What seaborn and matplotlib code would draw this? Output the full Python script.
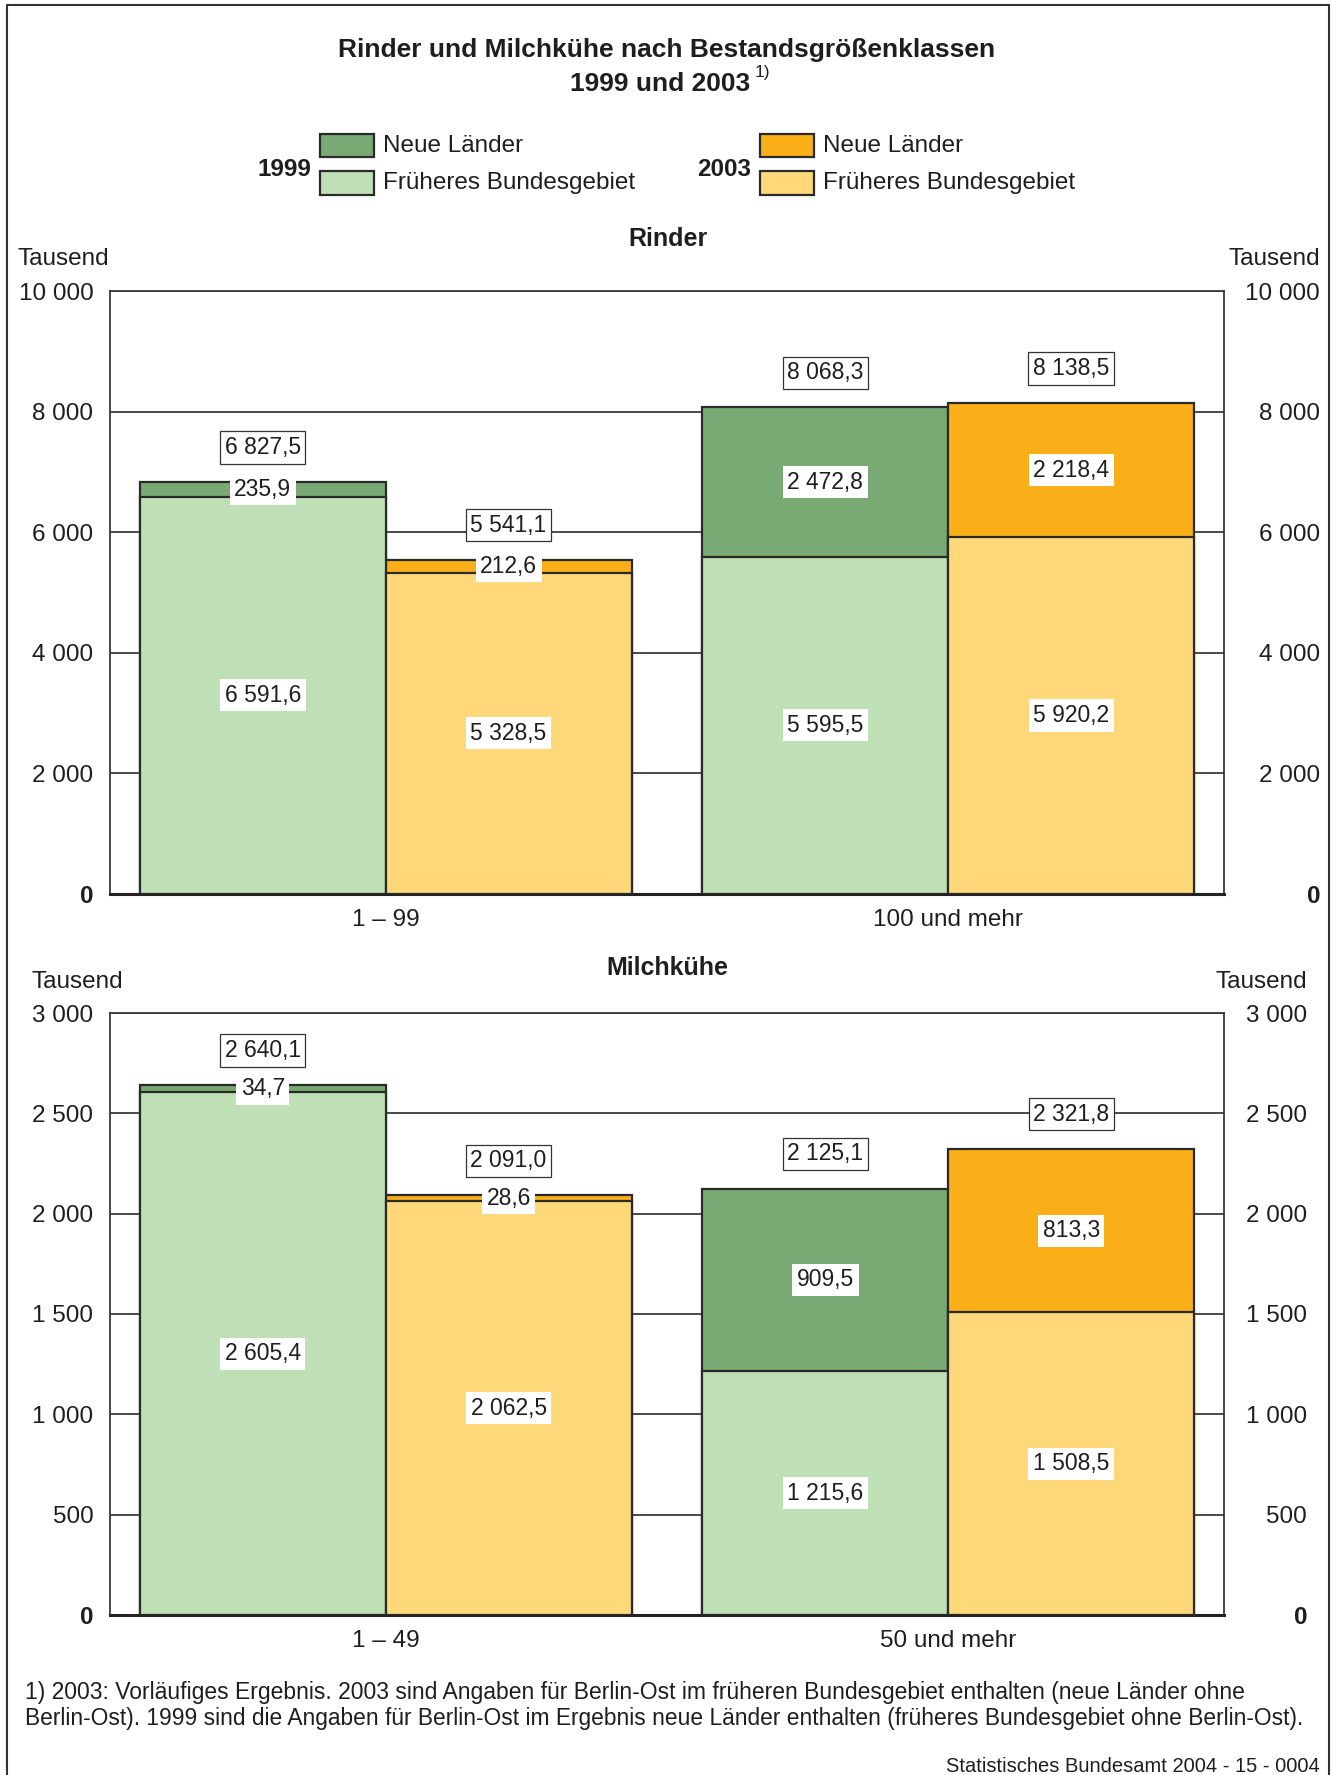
import matplotlib
matplotlib.use('Agg')
import matplotlib.pyplot as plt
from matplotlib.patches import Rectangle
from matplotlib.lines import Line2D
import seaborn as sns
import pandas as pd

# ---------------- data ----------------
years = ['1999', '2003']
legend_labels = ['Neue Länder', 'Früheres Bundesgebiet']

rinder_klassen = ['1 – 99', '100 und mehr']
rinder_frueher_1999 = [6591.6, 5595.5]
rinder_neue_1999 = [235.9, 2472.8]
rinder_gesamt_1999 = [6827.5, 8068.3]
rinder_frueher_2003 = [5328.5, 5920.2]
rinder_neue_2003 = [212.6, 2218.4]
rinder_gesamt_2003 = [5541.1, 8138.5]
rinder_ticks = [0, 2000, 4000, 6000, 8000, 10000]

milch_klassen = ['1 – 49', '50 und mehr']
milch_frueher_1999 = [2605.4, 1215.6]
milch_neue_1999 = [34.7, 909.5]
milch_gesamt_1999 = [2640.1, 2125.1]
milch_frueher_2003 = [2062.5, 1508.5]
milch_neue_2003 = [28.6, 813.3]
milch_gesamt_2003 = [2091.0, 2321.8]
milch_ticks = [0, 500, 1000, 1500, 2000, 2500, 3000]

# ---------------- style ----------------
DARK = {'1999': '#79AA73', '2003': '#FAAF19'}
LIGHT = {'1999': '#BFDFB6', '2003': '#FFD87A'}
EDGE = '#2a2a2a'
GRID = '#3a3a3a'
VAL_FS = 16.5

sns.set_theme(style='white')
plt.rcParams['font.family'] = ['Liberation Sans', 'DejaVu Sans']
plt.rcParams['text.color'] = '#1e1e1e'
plt.rcParams['xtick.color'] = '#1e1e1e'
plt.rcParams['ytick.color'] = '#1e1e1e'

W, H = 1331, 1775
fig = plt.figure(figsize=(W / 100, H / 100), dpi=100)
fig.patch.set_facecolor('white')


def fx(px):
    return px / W


def fy(py):
    return 1 - py / H


def fmt(v):
    return f"{v:,.1f}".replace(',', ' ').replace('.', ',')


def fmt_int(v):
    return f"{v:,.0f}".replace(',', ' ')


def make_df(klassen, fr99, ne99, ge99, fr03, ne03, ge03):
    rows = []
    for i, k in enumerate(klassen):
        rows.append(dict(klasse=k, jahr='1999', frueher=fr99[i], neue=ne99[i], gesamt=ge99[i]))
        rows.append(dict(klasse=k, jahr='2003', frueher=fr03[i], neue=ne03[i], gesamt=ge03[i]))
    return pd.DataFrame(rows)


def panel(rect, df, klassen, ticks, right_pad_px):
    ax = fig.add_axes(rect)
    sns.barplot(data=df, x='klasse', y='gesamt', hue='jahr', order=klassen, hue_order=years,
                palette=DARK, saturation=1, width=0.874, dodge=True, errorbar=None,
                edgecolor=EDGE, linewidth=1.6, legend=False, ax=ax, zorder=3)
    n0 = len(ax.patches)
    sns.barplot(data=df, x='klasse', y='frueher', hue='jahr', order=klassen, hue_order=years,
                palette=LIGHT, saturation=1, width=0.874, dodge=True, errorbar=None,
                edgecolor=EDGE, linewidth=1.6, legend=False, ax=ax, zorder=4)
    tot_bars = sorted(ax.patches[:n0], key=lambda p: p.get_x())
    fr_bars = sorted(ax.patches[n0:], key=lambda p: p.get_x())

    for (_, row), pt, pf in zip(df.iterrows(), tot_bars, fr_bars):
        xc = pt.get_x() + pt.get_width() / 2
        ax.annotate(fmt(row.gesamt), (xc, row.gesamt), xytext=(0, 25), textcoords='offset points',
                    ha='center', va='center', fontsize=VAL_FS, zorder=6,
                    bbox=dict(boxstyle='square,pad=0.2', fc='white', ec='#333333', lw=0.9))
        ax.text(xc, row.frueher + row.neue / 2, fmt(row.neue), ha='center', va='center',
                fontsize=VAL_FS, zorder=6,
                bbox=dict(boxstyle='square,pad=0.2', fc='white', ec='none'))
        ax.text(xc, row.frueher / 2, fmt(row.frueher), ha='center', va='center',
                fontsize=VAL_FS, zorder=6,
                bbox=dict(boxstyle='square,pad=0.2', fc='white', ec='none'))

    top = ticks[-1]
    ax.set_xlim(-0.49, 1.49)
    ax.set_ylim(0, top)
    ax.set_xlabel('')
    ax.set_ylabel('')
    ax.set_yticks(ticks)
    ax.set_yticklabels([fmt_int(t) for t in ticks])
    ax.get_yticklabels()[0].set_fontweight('bold')
    ax.yaxis.grid(True, color=GRID, lw=1.3)
    ax.xaxis.grid(False)
    ax.set_axisbelow(True)
    ax.tick_params(axis='y', length=0, pad=12, labelsize=17.5)
    ax.tick_params(axis='x', length=0, pad=11, labelsize=17.5)
    for s in ['left', 'right', 'top']:
        ax.spines[s].set_color(GRID)
        ax.spines[s].set_linewidth(1.3)
    ax.spines['bottom'].set_color('#222222')
    ax.spines['bottom'].set_linewidth(2.2)

    ax2 = ax.twinx()
    ax2.set_ylim(0, top)
    ax2.set_yticks(ticks)
    ax2.set_yticklabels([fmt_int(t) for t in ticks])
    ax2.tick_params(axis='y', length=0, pad=right_pad_px * 0.72, labelsize=17.5)
    for lab in ax2.get_yticklabels():
        lab.set_horizontalalignment('right')
    ax2.get_yticklabels()[0].set_fontweight('bold')
    for s in ax2.spines.values():
        s.set_visible(False)
    ax2.grid(False)
    return ax


rinder_df = make_df(rinder_klassen, rinder_frueher_1999, rinder_neue_1999, rinder_gesamt_1999,
                    rinder_frueher_2003, rinder_neue_2003, rinder_gesamt_2003)
milch_df = make_df(milch_klassen, milch_frueher_1999, milch_neue_1999, milch_gesamt_1999,
                   milch_frueher_2003, milch_neue_2003, milch_gesamt_2003)

AX_L, AX_R = 110, 1224
panel([fx(AX_L), fy(894), (AX_R - AX_L) / W, (894 - 291) / H], rinder_df, rinder_klassen,
      rinder_ticks, 1320 - AX_R)
panel([fx(AX_L), fy(1615), (AX_R - AX_L) / W, (1615 - 1013) / H], milch_df, milch_klassen,
      milch_ticks, 1307 - AX_R)

# ---------------- titles ----------------
fig.text(fx(667), fy(50), 'Rinder und Milchkühe nach Bestandsgrößenklassen', ha='center',
         va='center', fontsize=19, fontweight='bold')
fig.text(fx(660), fy(84), '1999 und 2003', ha='center', va='center', fontsize=19, fontweight='bold')
fig.text(fx(755), fy(73), '1)', ha='left', va='center', fontsize=12.5)

fig.text(fx(668), fy(239), 'Rinder', ha='center', va='center', fontsize=18, fontweight='bold')
fig.text(fx(667), fy(968), 'Milchkühe', ha='center', va='center', fontsize=18, fontweight='bold')

for x, y, ha in [(17, 259, 'left'), (1320, 259, 'right'), (32, 982, 'left'), (1307, 982, 'right')]:
    fig.text(fx(x), fy(y), 'Tausend', ha=ha, va='center', fontsize=17.5)

# ---------------- legend ----------------
for yr, x0, xlab in [('1999', 320, 311), ('2003', 760, 751)]:
    for (y0, y1), col, lab in [((134, 157), DARK[yr], legend_labels[0]),
                               ((171, 195), LIGHT[yr], legend_labels[1])]:
        fig.add_artist(Rectangle((fx(x0), fy(y1)), 54 / W, (y1 - y0) / H, transform=fig.transFigure,
                                 fc=col, ec=EDGE, lw=1.6))
        fig.text(fx(x0 + 63), fy((y0 + y1) / 2), lab, ha='left', va='center', fontsize=17.5)
    fig.text(fx(xlab), fy(169), yr, ha='right', va='center', fontsize=17.5, fontweight='bold')

# ---------------- footnote ----------------
fig.text(fx(25), fy(1692), '1) 2003: Vorläufiges Ergebnis. 2003 sind Angaben für Berlin-Ost im früheren '
         'Bundesgebiet enthalten (neue Länder ohne', ha='left', va='center', fontsize=16.5)
fig.text(fx(25), fy(1718), 'Berlin-Ost). 1999 sind die Angaben für Berlin-Ost im Ergebnis neue Länder '
         'enthalten (früheres Bundesgebiet ohne Berlin-Ost).', ha='left', va='center', fontsize=16.4)
fig.text(fx(1320), fy(1766), 'Statistisches Bundesamt 2004 - 15 - 0004', ha='right', va='center',
         fontsize=14.5)

# ---------------- frame ----------------
for xs, ys in [((7, 7), (5, 1790)), ((7, 1329), (5, 5)), ((1329, 1329), (5, 1790))]:
    fig.add_artist(Line2D([fx(x) for x in xs], [fy(y) for y in ys], transform=fig.transFigure,
                          color='#333333', lw=1.5))

fig.savefig('out.png', dpi=100)
